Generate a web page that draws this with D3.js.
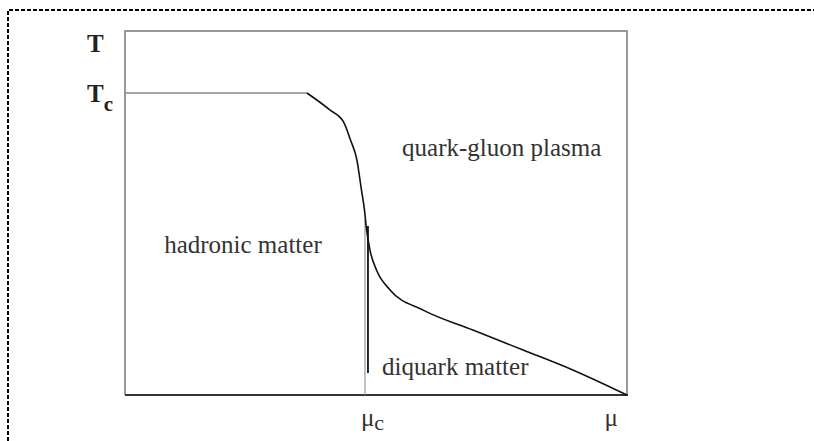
<!DOCTYPE html>
<html><head><meta charset="utf-8">
<script src="https://cdn.jsdelivr.net/npm/d3@7"></script>
<style>html,body{margin:0;padding:0;background:#fff}svg{display:block}
text{font-family:"Liberation Serif","Times New Roman","DejaVu Serif",serif}</style>
</head><body>
<svg id="c" width="814" height="441"></svg>
<script>
// Phase boundary (mu in % of axis, T in units of Tc)
const tcLine = [[0, 1.0], [36.25, 1.0]];
const boundary = [[36.25,1.0],[40.8,0.944],[43.5,0.905],[44.9,0.845],[46.2,0.778],[47.1,0.679],[47.7,0.613],[48.1,0.55],[48.8,0.48],[50.1,0.414],[52.8,0.348],[59.4,0.281],[69.3,0.215],[79.3,0.149],[89.2,0.083],[100,0]];
const diquarkEdge = [[48.4,0.56],[48.4,0.073]];
const muCMark = [[47.8,0],[47.8,0.58]];
const regionLabels = [
  {text:"quark-gluon plasma", mu:55.2, T:0.79},
  {text:"hadronic matter", mu:7.8, T:0.47},
  {text:"diquark matter", mu:51.2, T:0.067}
];
const muC = 47.8, muMax = 96.5;

const svg = d3.select("#c");
const x = d3.scaleLinear().domain([0,100]).range([125,627]);
const y = d3.scaleLinear().domain([0,1]).range([395,93]);
const yTop = 1.205;

svg.append("path").attr("d","M8,441 L8,10 L814,10")
  .attr("fill","none").attr("stroke","#000").attr("stroke-width",2).attr("stroke-dasharray","4,2");

svg.append("path").attr("d",`M${x(0)},${y(0)} L${x(0)},${y(yTop)} L${x(100)},${y(yTop)} L${x(100)},${y(0)}`)
  .attr("fill","none").attr("stroke","#9a9a9a").attr("stroke-width",2);
svg.append("line").attr("x1",x(0)).attr("x2",x(100)+1).attr("y1",y(0)).attr("y2",y(0))
  .attr("stroke","#333").attr("stroke-width",2);

const line = d3.line().x(d=>x(d[0])).y(d=>y(d[1]));
svg.append("path").attr("d",line(tcLine)).attr("fill","none").attr("stroke","#888").attr("stroke-width",1.5);
svg.append("path").attr("d",line(muCMark)).attr("fill","none").attr("stroke","#999").attr("stroke-width",1.2);
svg.append("path").attr("d",d3.line().x(d=>x(d[0])).y(d=>y(d[1])).curve(d3.curveMonotoneX)(boundary))
  .attr("fill","none").attr("stroke","#111").attr("stroke-width",1.6).attr("stroke-linejoin","round");
svg.append("path").attr("d",line(diquarkEdge)).attr("fill","none").attr("stroke","#111").attr("stroke-width",1.8);

svg.selectAll("text.region").data(regionLabels).join("text").attr("class","region")
  .attr("x",d=>x(d.mu)).attr("y",d=>y(d.T)).text(d=>d.text)
  .style("font-size","25px").attr("fill","#333");

const tl = svg.append("text").attr("fill","#222").style("font-size","25px").attr("font-weight","bold");
tl.append("tspan").attr("x",87).attr("y",52).text("T");
const tc = svg.append("text").attr("fill","#222").style("font-size","25px").attr("font-weight","bold").attr("x",87).attr("y",102);
tc.append("tspan").text("T");
tc.append("tspan").attr("dy",9).style("font-size","21px").text("c");

const mc = svg.append("text").attr("fill","#333").style("font-size","25px").attr("x",x(muC)-4).attr("y",426);
mc.append("tspan").text("μ");
mc.append("tspan").attr("dy",4).style("font-size","22px").text("c");
svg.append("text").attr("fill","#333").style("font-size","25px").attr("x",x(muMax)-5).attr("y",426).text("μ");
</script>
</body></html>
